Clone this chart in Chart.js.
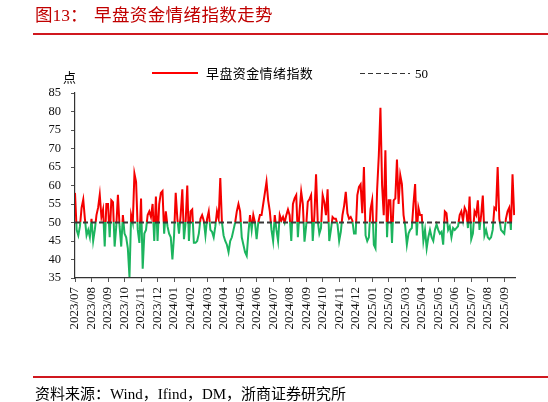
<!DOCTYPE html>
<html>
<head>
<meta charset="utf-8">
<script src="https://cdn.jsdelivr.net/npm/chart.js@4.4.0/dist/chart.umd.min.js"></script>
<style>
  body { margin: 0; background: #fff; }
  #wrap { position: relative; width: 548px; height: 402px; background: #fff; overflow: hidden;
          font-family: "Liberation Serif", "Noto Sans CJK SC", serif; }
  #c { position: absolute; left: 0; top: 0; }
  .abs { position: absolute; white-space: nowrap; line-height: 1; }
  .title { color: #c00000; font-size: 17.5px; top: 7px; }
  .rule { position: absolute; left: 33px; right: 0; height: 1.5px; background: #d0181f; }
  .leg { font-size: 13px; color: #000; top: 67px; }
  .dash { position: absolute; height: 1.6px;
          background: repeating-linear-gradient(90deg, #333 0 5px, transparent 5px 8px); }
</style>
</head>
<body>
<div id="wrap">
  <canvas id="c" width="548" height="402"></canvas>
  <div class="abs title" style="left:35px">图13：</div>
  <div class="abs title" style="left:94px;letter-spacing:0.4px">早盘资金情绪指数走势</div>
  <div class="rule" style="top:33px"></div>

  <div class="abs" style="left:152px;top:72px;width:46px;height:2px;background:#ff0000"></div>
  <div class="abs leg" style="left:206px;letter-spacing:0.4px">早盘资金情绪指数</div>
  <div class="dash" style="left:360px;top:72.5px;width:50px"></div>
  <div class="abs leg" style="left:415px">50</div>

  <div class="abs" style="left:63px;top:71px;font-size:13px">点</div>

  <div class="rule" style="top:376px"></div>
  <div class="abs" style="left:35px;top:387px;font-size:15px">资料来源：Wind，Ifind，DM，浙商证券研究所</div>
</div>

<script>
// tick labels, one per month
const monthLabels = [
  '2023/07', '2023/08', '2023/09', '2023/10', '2023/11', '2023/12',
  '2024/01', '2024/02', '2024/03', '2024/04', '2024/05', '2024/06',
  '2024/07', '2024/08', '2024/09', '2024/10', '2024/11', '2024/12',
  '2025/01', '2025/02', '2025/03', '2025/04', '2025/05', '2025/06',
  '2025/07', '2025/08', '2025/09'
];

// readings per month (sampled evenly within each month)
const perMonth = 10;
const baseline = 50;

// 早盘资金情绪指数
const sentiment = [
  58, 48, 46.5, 49, 54, 56.2, 51, 46.5, 48, 46,       // 2023/07
  51, 45, 48, 52, 54, 57.5, 51.5, 53.5, 43.5, 55,     // 2023/08
  55, 46, 56, 55.5, 43.5, 49, 57.5, 49, 43.5, 52,     // 2023/09
  47, 46, 43, 35.3, 52, 50, 63.2, 61, 48, 44.5,       // 2023/10
  56.5, 37.5, 47, 48, 52, 53, 51.5, 55, 45, 57,       // 2023/11
  45, 55, 58, 58.5, 47, 53, 49, 47, 46, 40,           // 2023/12
  46.5, 58, 51, 47, 52, 59, 45.5, 50, 60, 45,         // 2024/01
  53, 53.5, 44.5, 44.5, 45, 47, 51, 52, 50.5, 46.5,   // 2024/02
  51, 53, 48, 47.5, 46, 49, 53, 51, 62, 50,           // 2024/03
  46.5, 45, 44, 42, 45, 46, 48, 50, 53, 55,           // 2024/04
  53, 46, 44, 42, 41, 47, 52, 48, 52, 50,             // 2024/05
  45.5, 50, 52, 52, 55, 58, 61, 56, 53, 48,           // 2024/06
  45, 52, 48, 45, 52, 50.5, 51.5, 50, 52, 53.5,       // 2024/07
  52, 45, 55, 56.5, 57.4, 46, 53, 58.3, 55, 44.8,     // 2024/08
  49, 55.6, 56.3, 57.4, 45, 52, 63, 50.5, 47, 48.5,   // 2024/09
  57.4, 55.5, 52, 59, 45, 48, 51.5, 51, 51, 49.5,     // 2024/10
  45, 47.5, 52, 54.5, 58.3, 52.5, 51, 51.5, 50.5, 47, // 2024/11
  47, 57.4, 59.6, 60.3, 52.5, 65, 46.5, 45, 46, 53.6, // 2024/12
  56, 44, 43, 59, 68, 81, 60, 52, 69.5, 46,           // 2025/01
  56, 56, 44.5, 56, 56.5, 67, 55, 62.8, 60.4, 52,     // 2025/02
  49, 44, 47, 48, 48.5, 55, 60.4, 46.5, 54, 52,       // 2025/03
  52, 45, 48, 43, 46, 48, 46, 45, 48, 49.5,           // 2025/04
  48, 47, 47.5, 44, 53, 52.5, 48, 49, 46, 48.5,       // 2025/05
  48, 48.5, 49, 52, 53, 50.5, 54, 53, 48.5, 57,       // 2025/06
  45.5, 47, 53, 52, 56, 48, 52, 57.3, 46.5, 48,       // 2025/07
  46, 45.5, 46, 48, 54, 53.5, 65, 51, 48, 47.5,       // 2025/08
  47, 51, 53, 54, 48, 63, 52                          // 2025/09
];

const yTicks = { min: 35, max: 85, step: 5 };

const RED = '#f50000';
const GREEN = '#1cb45e';

// position of each reading on the month axis
const pts = sentiment.map((v, i) => ({ x: i / perMonth, y: v }));
const xMax = (sentiment.length - 1) / perMonth + 0.05;

// red above 50, green below: hard colour stop at the 50 pixel
function splitColor(context) {
    const chart = context.chart;
    const area = chart.chartArea;
    if (!area) return RED;
    const y50 = chart.scales.y.getPixelForValue(baseline);
    const f = Math.min(Math.max((y50 - area.top) / (area.bottom - area.top), 0), 1);
    const g = chart.ctx.createLinearGradient(0, area.top, 0, area.bottom);
    g.addColorStop(0, RED);
    g.addColorStop(f, RED);
    g.addColorStop(f, GREEN);
    g.addColorStop(1, GREEN);
    return g;
}

const ctx = document.getElementById('c');
new Chart(ctx.getContext('2d'), {
    type: 'line',
    data: {
        datasets: [
            {
                // 50 reference line (drawn on top)
                data: [{ x: 0, y: baseline }, { x: xMax, y: baseline }],
                borderColor: '#3a3a3a',
                borderWidth: 1.8,
                borderDash: [5, 3],
                pointRadius: 0
            },
            {
                label: '早盘资金情绪指数',
                data: pts,
                borderColor: splitColor,
                borderWidth: 2,
                pointRadius: 0,
                tension: 0
            }
        ]
    },
    options: {
        responsive: false,
        animation: false,
        layout: { padding: { top: 93, right: 33, left: 0, bottom: 0 } },
        plugins: { legend: { display: false }, tooltip: { enabled: false } },
        scales: {
            x: {
                type: 'linear',
                min: 0,
                max: xMax,
                afterFit: s => { s.height = 124; },
                border: { display: true, color: '#333', width: 1.2 },
                grid: { drawOnChartArea: false, drawTicks: true, tickLength: 4, color: '#555' },
                ticks: {
                    stepSize: 1,
                    includeBounds: false,
                    autoSkip: false,
                    minRotation: 90,
                    maxRotation: 90,
                    padding: 5,
                    color: '#111',
                    font: { family: 'Liberation Serif', size: 13 },
                    callback: v => Number.isInteger(v) ? (monthLabels[v] || '') : ''
                }
            },
            y: {
                min: yTicks.min,
                max: yTicks.max,
                afterFit: s => { s.width = 75; },
                border: { display: true, color: '#333', width: 1.2 },
                grid: { drawOnChartArea: false, drawTicks: true, tickLength: 4, color: '#555' },
                ticks: {
                    stepSize: yTicks.step,
                    padding: 10,
                    color: '#111',
                    font: { family: 'Liberation Serif', size: 12.5 }
                }
            }
        }
    }
});
</script>
</body>
</html>
